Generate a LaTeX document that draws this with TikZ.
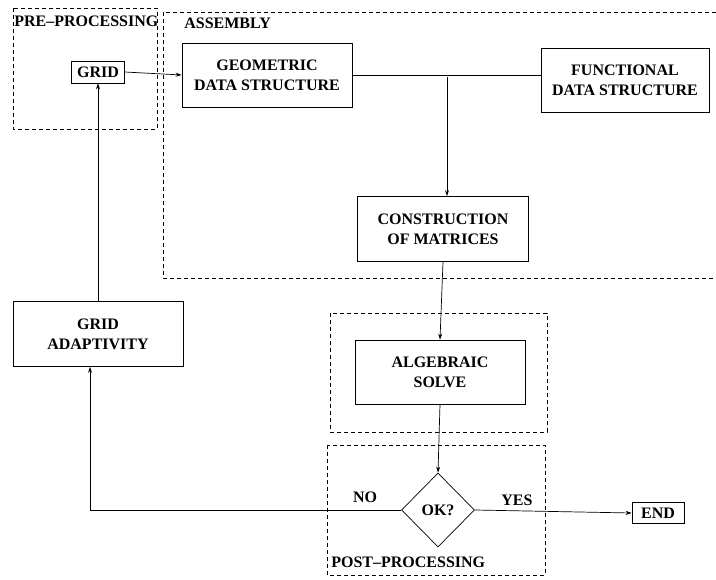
\documentclass[tikz,border=0pt]{standalone}
\usepackage{fontspec}
\setmainfont{Liberation Serif}
\usetikzlibrary{shapes.geometric,arrows.meta,calc}

\begin{document}
\begin{tikzpicture}[x=1pt,y=-1pt,line width=0.7pt,>={Stealth[length=6pt,width=4pt]},
    every node/.style={font=\bfseries\fontsize{16}{20}\selectfont,align=center},
    stepbox/.style={draw,inner sep=2pt},
    stagebox/.style={draw,dash pattern=on 4pt off 3pt,line width=0.6pt},
    stagelabel/.style={anchor=west,inner sep=0pt}]
    \useasboundingbox (0,0) rectangle (716,580);
    \draw [stagebox] (13,8) rectangle (157,129);
    \draw [stagebox] (716,12) -- (163,12) -- (163,278) -- (716,278);
    \draw [stagebox] (330,313) rectangle (547,432);
    \draw [stagebox] (327,445) rectangle (545,575);
    \node [stagelabel] (prelabel) at (14,21) {PRE--PROCESSING};
    \node [stagelabel] (asmlabel) at (184,23) {ASSEMBLY};
    \node [stagelabel] (postlabel) at (331,562) {POST--PROCESSING};
    \node [stepbox,minimum width=53,minimum height=22] (grid) at (98,72) {GRID};
    \node [stepbox,minimum width=170,minimum height=64] (geo) at (267,75) {GEOMETRIC\\DATA STRUCTURE};
    \node [stepbox,minimum width=168,minimum height=64] (func) at (625,80) {FUNCTIONAL\\DATA STRUCTURE};
    \node [stepbox,minimum width=171,minimum height=65] (cons) at (443,229) {CONSTRUCTION\\OF MATRICES};
    \node [stepbox,minimum width=170,minimum height=64] (alg) at (440,372) {ALGEBRAIC\\SOLVE};
    \node [stepbox,minimum width=170,minimum height=65] (adapt) at (98,334) {GRID\\ADAPTIVITY};
    \node [draw,diamond,inner sep=0pt,minimum width=73,minimum height=74] (ok) at (438,510) {OK?};
    \node [stepbox,minimum width=52,minimum height=21] (end) at (658,513) {END};
    \node (no) at (365,497) {NO};
    \node (yes) at (517,500) {YES};
    \coordinate (join) at (447,77);
    \coordinate (turn) at (90,0);
    \draw [->] (grid.east) -- (geo.west);
    \draw (geo.east) -- (geo.east -| func.west);
    \draw [->] (join) -- (join |- cons.north);
    \draw [->] (cons.south) -- (alg.north);
    \draw [->] (alg.south) -- (ok.north);
    \draw [->] (ok.east) -- (end.west);
    \draw [->] (ok.west) -| (turn |- adapt.south);
    \draw [->] (adapt.north) -- (grid.south);
\end{tikzpicture}
\end{document}
